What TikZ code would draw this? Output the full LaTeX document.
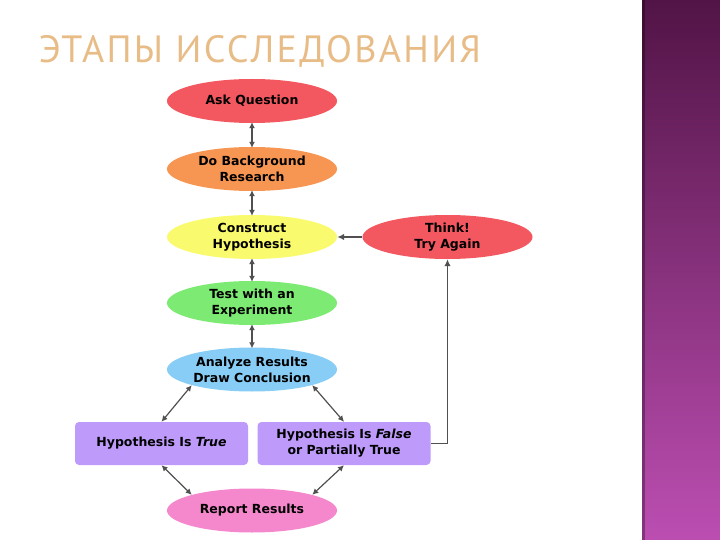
\documentclass[tikz,border=0pt]{standalone}
\usepackage{fontspec}
\setmainfont{DejaVu Sans}
\newfontfamily\titrefont[LetterSpace=6]{PT Sans}
\usetikzlibrary{shapes.geometric,arrows.meta}
\definecolor{etaperouge}{RGB}{243,88,96}
\definecolor{etapeorange}{RGB}{247,150,82}
\definecolor{etapejaune}{RGB}{250,250,110}
\definecolor{etapevert}{RGB}{125,235,115}
\definecolor{etapebleu}{RGB}{135,205,245}
\definecolor{etapeviolet}{RGB}{190,155,250}
\definecolor{etaperose}{RGB}{245,135,205}
\definecolor{fleche}{RGB}{80,80,80}
\definecolor{titre}{RGB}{232,188,135}
\definecolor{bandehaut}{RGB}{82,20,70}
\definecolor{bandemilieu}{RGB}{140,50,122}
\definecolor{bandebas}{RGB}{188,78,178}
\tikzset{
	etape/.style={ellipse,minimum width=170,minimum height=44,inner sep=0pt,
		align=center,font=\fontsize{12.5}{16}\selectfont\bfseries},
	bilan/.style={rectangle,rounded corners=4,minimum width=173,minimum height=43,
		inner sep=0pt,fill=etapeviolet,align=center,font=\fontsize{12.5}{16}\selectfont\bfseries},
	lien/.style={draw=fleche,line width=1.2,{Latex[length=6,width=6]}-{Latex[length=6,width=6]}},
	retour/.style={draw=fleche,line width=1.8,-{Latex[length=7,width=6.5]}},
}

\begin{document}
\begin{tikzpicture}[x=1pt,y=-1pt]
	\useasboundingbox (0,0) rectangle (720,540);
	
	% bande violette (à droite)
	\shade[top color=bandehaut,middle color=bandemilieu,bottom color=bandebas]
	(642,0) rectangle (720,540);
	\fill[black,opacity=0.3] (642,0) rectangle (645,540);
	
	% titre
	\node[font=\titrefont\fontsize{38}{38}\selectfont,text=titre] (titre) at (260,51)
	{ЭТАПЫ ИССЛЕДОВАНИЯ};
	
	% --- étapes ---
	\node[etape,fill=etaperouge] (question) at (252,101) {Ask Question};
	\node[etape,fill=etapeorange] (recherche) at (252,169) {Do Background\\Research};
	\node[etape,fill=etapejaune] (hypothese) at (252,237) {Construct\\Hypothesis};
	\node[etape,fill=etapevert] (experience) at (252,303) {Test with an\\Experiment};
	\node[etape,fill=etapebleu] (analyse) at (252,369.5) {Analyze Results\\Draw Conclusion};
	\node[etape,fill=etaperouge] (penser) at (447.5,237) {Think!\\Try Again};
	\node[bilan] (vrai) at (161.5,443.5) {Hypothesis Is \textit{True}};
	\node[bilan] (faux) at (344,443.5) {Hypothesis Is \textit{False}\\or Partially True};
	\node[etape,fill=etaperose] (rapport) at (252,510.5) {Report Results};
	
	% --- liaisons ---
	\draw[lien] ([yshift=1]question.south) -- ([yshift=-1]recherche.north);
	\draw[lien] ([yshift=1]recherche.south) -- ([yshift=-1]hypothese.north);
	\draw[lien] ([yshift=1]hypothese.south) -- ([yshift=-1]experience.north);
	\draw[lien] ([yshift=1]experience.south) -- ([yshift=-1]analyse.north);
	\draw[lien] (analyse.south west) -- (vrai.north);
	\draw[lien] (analyse.south east) -- (faux.north);
	\draw[lien] (vrai.south) -- (rapport.north west);
	\draw[lien] (faux.south) -- (rapport.north east);
	\draw[retour] (faux.east) -| (penser.south);
	\draw[retour] (penser.west) -- (hypothese.east);
	
\end{tikzpicture}
\end{document}
